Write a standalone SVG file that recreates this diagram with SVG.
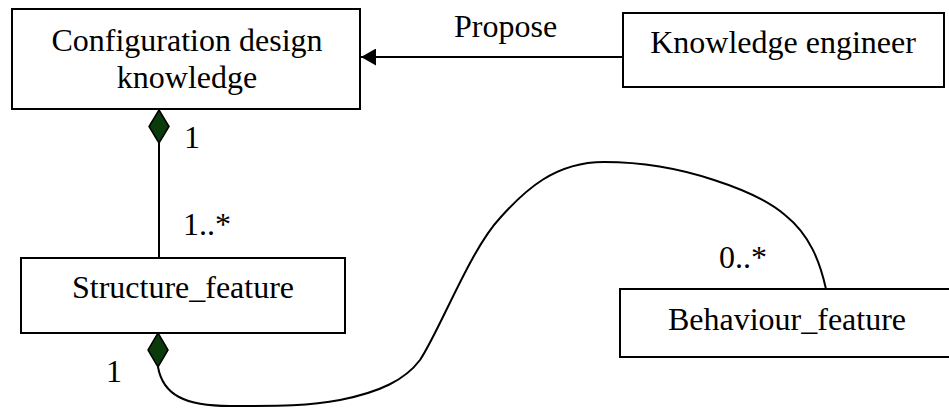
<svg xmlns="http://www.w3.org/2000/svg" width="949" height="408" viewBox="0 0 949 408">
  <style>
    .box { fill: #ffffff; stroke: #000000; stroke-width: 2; }
    .lbl { font-family: "Liberation Serif", "Times New Roman", "DejaVu Serif", serif; font-size: 32px; fill: #000000; }
    .mid { text-anchor: middle; }
    .wire { fill: none; stroke: #000000; stroke-width: 2; }
    .comp { fill: #0b3a0b; stroke: #000000; stroke-width: 1.5; }
  </style>
  <defs>
    <marker id="arrowHead" viewBox="0 0 15 17" refX="15" refY="8.5" markerWidth="15" markerHeight="17" markerUnits="userSpaceOnUse" orient="auto">
      <path d="M0,0 L15,8.5 L0,17 Z" fill="#000000"/>
    </marker>
  </defs>

  <!-- connectors -->
  <g id="connectors">
    <!-- Propose association -->
    <line class="wire" x1="623" y1="57" x2="361" y2="57" marker-end="url(#arrowHead)"/>
    <text class="lbl" x="454" y="37">Propose</text>

    <!-- composition: Configuration design knowledge 1 to 1..* Structure_feature -->
    <line class="wire" x1="159" y1="143" x2="159" y2="258"/>
    <polygon class="comp" points="159,110 169,126.5 159,143 149,126.5"/>
    <text class="lbl" x="184" y="148">1</text>
    <text class="lbl" x="183" y="235">1..*</text>

    <!-- composition: Structure_feature 1 to 0..* Behaviour_feature -->
    <path class="wire" d="M158,367 C163,395 185,406 230,406 C280,406 310,406 340,400 C380,392 405,380 420,360 C440,330 470,250 500,218 C525,190 555,162 604,162 C650,162 690,172 714,180 C745,190 770,202 785,215 C810,235 820,262 826,289"/>
    <polygon class="comp" points="158,333 168,350 158,367 148,350"/>
    <text class="lbl" x="106" y="382">1</text>
    <text class="lbl" x="719" y="268">0..*</text>
  </g>

  <!-- nodes -->
  <g id="configuration-design-knowledge">
    <rect class="box" x="12" y="9" width="348" height="100"/>
    <text class="lbl mid" x="187" y="51">Configuration design</text>
    <text class="lbl mid" x="187" y="88">knowledge</text>
  </g>

  <g id="knowledge-engineer">
    <rect class="box" x="623" y="13" width="321" height="74"/>
    <text class="lbl mid" x="783" y="53">Knowledge engineer</text>
  </g>

  <g id="structure-feature">
    <rect class="box" x="21" y="258" width="324" height="75"/>
    <text class="lbl mid" x="183" y="298">Structure_feature</text>
  </g>

  <g id="behaviour-feature">
    <rect class="box" x="620" y="289" width="340" height="68"/>
    <text class="lbl mid" x="787" y="330">Behaviour_feature</text>
  </g>
</svg>
